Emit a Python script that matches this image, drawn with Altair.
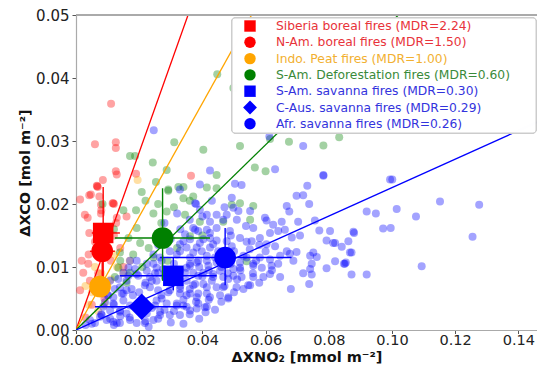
import altair as alt
import pandas as pd

# ---------------- data ----------------
red_x = [0.0111, 0.0060, 0.0126, 0.0126, 0.0126, 0.0129, 0.0190, 0.0364, 0.0085, 0.0067,
         0.0066, 0.0047, 0.0118, 0.0013, 0.0028, 0.0129, 0.0018, 0.0039, 0.0023, 0.0044,
         0.0013, 0.0100, 0.0120, 0.0060, 0.0040, 0.0110, 0.0140, 0.0070, 0.0090, 0.0050,
         0.0030, 0.0120, 0.0160, 0.0150, 0.0080, 0.0042, 0.0069, 0.0074, 0.0116, 0.0079,
         0.0079, 0.0037, 0.0127, 0.0042]
red_y = [0.0359, 0.0295, 0.0298, 0.0289, 0.0252, 0.0247, 0.0248, 0.0245, 0.0238, 0.0228,
         0.0229, 0.0215, 0.0201, 0.0207, 0.0183, 0.0178, 0.0110, 0.0105, 0.0091, 0.0078,
         0.0063, 0.0160, 0.0150, 0.0140, 0.0120, 0.0110, 0.0130, 0.0090, 0.0050, 0.0040,
         0.0020, 0.0200, 0.0180, 0.0100, 0.0190, 0.0214, 0.0227, 0.0212, 0.0201, 0.0199,
         0.0185, 0.0178, 0.0170, 0.0154]

orange_x = [0.0195, 0.0050, 0.0080, 0.0110, 0.0130, 0.0040, 0.0150, 0.0090, 0.0170,
            0.0120, 0.0060, 0.0100, 0.0030, 0.0070]
orange_y = [0.0238, 0.0060, 0.0090, 0.0080, 0.0100, 0.0040, 0.0090, 0.0040, 0.0110,
            0.0120, 0.0100, 0.0070, 0.0070, 0.0030]

green_x = [0.0447, 0.0498, 0.0171, 0.0187, 0.0243, 0.0311, 0.0403, 0.0519, 0.0287, 0.0445,
           0.0566, 0.0600, 0.0253, 0.0292, 0.0324, 0.0340, 0.0445, 0.0614, 0.0674, 0.0783,
           0.0833, 0.0519, 0.0561, 0.0493, 0.0551, 0.0466, 0.0540, 0.0208, 0.0371, 0.0414,
           0.0245, 0.0287, 0.0345, 0.0392, 0.0192, 0.0166, 0.0203, 0.0361, 0.0139, 0.0181,
           0.0245, 0.0134, 0.0171, 0.0123, 0.0220, 0.0310, 0.0270, 0.0150, 0.0120, 0.0320,
           0.0290, 0.0210, 0.0160, 0.0360, 0.0400, 0.0230, 0.0190, 0.0140, 0.0260, 0.0340,
           0.0292, 0.0084]
green_y = [0.0406, 0.0384, 0.0276, 0.0276, 0.0266, 0.0298, 0.0286, 0.0292, 0.0254, 0.0246,
           0.0258, 0.0252, 0.0235, 0.0223, 0.0227, 0.0227, 0.0225, 0.0303, 0.0299, 0.0293,
           0.0306, 0.0201, 0.0197, 0.0199, 0.0175, 0.0172, 0.0109, 0.0219, 0.0212, 0.0226,
           0.0185, 0.0188, 0.0183, 0.0172, 0.0162, 0.0146, 0.0138, 0.0149, 0.0123, 0.0120,
           0.0115, 0.0099, 0.0091, 0.0084, 0.0205, 0.0195, 0.0170, 0.0190, 0.0160, 0.0130,
           0.0110, 0.0100, 0.0075, 0.0205, 0.0150, 0.0130, 0.0190, 0.0110, 0.0200, 0.0209,
           0.0221, 0.0200]

blue_x = [0.0612, 0.0719, 0.0630, 0.0783, 0.0503, 0.0524, 0.0732, 0.0698, 0.0719, 0.0493,
          0.0738, 0.0667, 0.0498, 0.0514, 0.0551, 0.0675, 0.0920, 0.0949, 0.0972, 0.0994,
          0.0477, 0.0509, 0.0598, 0.0603, 0.0624, 0.0651, 0.0703, 0.0756, 0.0538, 0.0561,
          0.0770, 0.0804, 0.0878, 0.0487, 0.0614, 0.0640, 0.0661, 0.0683, 0.0709, 0.0793,
          0.0820, 0.0862, 0.0582, 0.0556, 0.0519, 0.0477, 0.0493, 0.0603, 0.0630, 0.0841,
          0.0872, 0.0667, 0.0677, 0.0698, 0.0751, 0.0762, 0.0741, 0.0646, 0.0582, 0.0614,
          0.0688, 0.0820, 0.0851, 0.0746, 0.0741, 0.0793, 0.0561, 0.0588, 0.0619, 0.0519,
          0.0719, 0.0746, 0.0872, 0.0920, 0.0498, 0.0614, 0.0593, 0.0561, 0.0545, 0.0646,
          0.0738, 0.0680, 0.0482, 0.1152, 0.1276, 0.1015, 0.1076, 0.0996, 0.1255, 0.1094,
          0.0880, 0.0814, 0.0867, 0.0848, 0.0854, 0.1001, 0.0246, 0.0424, 0.0392, 0.0329,
          0.0783,
          0.0403, 0.0424, 0.0445, 0.0329, 0.0350, 0.0382, 0.0398, 0.0424, 0.0450, 0.0297,
          0.0319, 0.0245, 0.0266, 0.0361, 0.0387, 0.0414, 0.0445, 0.0192, 0.0224, 0.0255,
          0.0276, 0.0350, 0.0371, 0.0403, 0.0434, 0.0466, 0.0166, 0.0192, 0.0234, 0.0255,
          0.0350, 0.0377, 0.0403, 0.0445, 0.0108, 0.0139, 0.0160, 0.0234, 0.0260, 0.0297,
          0.0329, 0.0361, 0.0382, 0.0414, 0.0456, 0.0086, 0.0118, 0.0150, 0.0171, 0.0255,
          0.0287, 0.0319, 0.0350, 0.0382, 0.0408, 0.0086, 0.0108, 0.0139, 0.0160, 0.0266,
          0.0297, 0.0224, 0.0076, 0.0097, 0.0118, 0.0139, 0.0171, 0.0192, 0.0044, 0.0060,
          0.0329, 0.0377, 0.0392, 0.0414, 0.0445, 0.0466, 0.0424, 0.0371, 0.0387, 0.0414,
          0.0445, 0.0345, 0.0361,
          0.0500, 0.0530, 0.0490, 0.0550, 0.0520, 0.0570, 0.0480, 0.0510, 0.0560, 0.0540,
          0.0490, 0.0580, 0.0600, 0.0470, 0.0530, 0.0500, 0.0580, 0.0620, 0.0640, 0.0460,
          0.0440, 0.0420, 0.0400, 0.0390, 0.0360, 0.0330, 0.0310, 0.0280, 0.0250, 0.0220,
          0.0200, 0.0180, 0.0150, 0.0120, 0.0080, 0.0050, 0.0030, 0.0100, 0.0270, 0.0330,
          0.0360, 0.0300, 0.0430, 0.0460, 0.0420, 0.0380, 0.0340, 0.0240, 0.0200, 0.0280,
          0.0310, 0.0360, 0.0410, 0.0440, 0.0390, 0.0260, 0.0220, 0.0300, 0.0340, 0.0170,
          0.0140, 0.0120, 0.0230, 0.0260, 0.0300, 0.0330, 0.0280, 0.0360, 0.0320, 0.0400,
          0.0380, 0.0430, 0.0470,
          0.0166, 0.0150, 0.0187, 0.0134, 0.0160, 0.0123, 0.0102, 0.0145, 0.0176, 0.0218,
          0.0240, 0.0092, 0.0118, 0.0139, 0.0081, 0.0108, 0.0129, 0.0250, 0.0271, 0.0292,
          0.0245, 0.0218, 0.0266, 0.0197, 0.0224, 0.0260, 0.0271, 0.0245, 0.0171,
          0.0377, 0.0424, 0.0340, 0.0392, 0.0434, 0.0329, 0.0371, 0.0414, 0.0382, 0.0419,
          0.0361, 0.0519, 0.0540, 0.0561, 0.0498, 0.0456, 0.0345, 0.0387, 0.0434, 0.0482,
          0.0524, 0.0551, 0.0508, 0.0466, 0.0414, 0.0371, 0.0329, 0.0350, 0.0387, 0.0424,
          0.0482, 0.0340, 0.0387, 0.0319, 0.0414, 0.0361]
blue_y = [0.0307, 0.0292, 0.0255, 0.0245, 0.0232, 0.0230, 0.0229, 0.0213, 0.0214, 0.0210,
          0.0200, 0.0197, 0.0194, 0.0189, 0.0189, 0.0188, 0.0188, 0.0185, 0.0161, 0.0239,
          0.0183, 0.0175, 0.0178, 0.0174, 0.0167, 0.0172, 0.0172, 0.0174, 0.0165, 0.0162,
          0.0158, 0.0157, 0.0156, 0.0157, 0.0154, 0.0157, 0.0159, 0.0147, 0.0150, 0.0142,
          0.0138, 0.0141, 0.0146, 0.0141, 0.0146, 0.0141, 0.0133, 0.0136, 0.0133, 0.0132,
          0.0123, 0.0125, 0.0121, 0.0124, 0.0123, 0.0116, 0.0118, 0.0118, 0.0115, 0.0112,
          0.0110, 0.0109, 0.0105, 0.0105, 0.0097, 0.0098, 0.0105, 0.0099, 0.0102, 0.0099,
          0.0090, 0.0088, 0.0088, 0.0088, 0.0086, 0.0089, 0.0084, 0.0084, 0.0071, 0.0084,
          0.0073, 0.0065, 0.0050, 0.0204, 0.0199, 0.0192, 0.0180, 0.0162, 0.0148, 0.0101,
          0.0154, 0.0138, 0.0123, 0.0105, 0.0107, 0.0239, 0.0317, 0.0253, 0.0231, 0.0223,
          0.0246,
          0.0144, 0.0146, 0.0142, 0.0136, 0.0131, 0.0131, 0.0125, 0.0131, 0.0125, 0.0125,
          0.0120, 0.0120, 0.0115, 0.0115, 0.0110, 0.0110, 0.0107, 0.0110, 0.0105, 0.0099,
          0.0097, 0.0099, 0.0091, 0.0091, 0.0089, 0.0084, 0.0086, 0.0089, 0.0084, 0.0078,
          0.0078, 0.0073, 0.0073, 0.0068, 0.0078, 0.0068, 0.0063, 0.0068, 0.0063, 0.0063,
          0.0058, 0.0058, 0.0052, 0.0058, 0.0055, 0.0058, 0.0052, 0.0047, 0.0039, 0.0047,
          0.0042, 0.0042, 0.0037, 0.0034, 0.0036, 0.0037, 0.0031, 0.0029, 0.0026, 0.0029,
          0.0024, 0.0026, 0.0021, 0.0016, 0.0013, 0.0011, 0.0016, 0.0011, 0.0016, 0.0011,
          0.0024, 0.0201, 0.0191, 0.0183, 0.0183, 0.0175, 0.0172, 0.0162, 0.0157, 0.0159,
          0.0162, 0.0152, 0.0144,
          0.0125, 0.0118, 0.0105, 0.0128, 0.0095, 0.0110, 0.0090, 0.0080, 0.0090, 0.0140,
          0.0150, 0.0135, 0.0125, 0.0070, 0.0065, 0.0060, 0.0075, 0.0095, 0.0105, 0.0100,
          0.0115, 0.0095, 0.0085, 0.0100, 0.0105, 0.0095, 0.0105, 0.0085, 0.0090, 0.0075,
          0.0060, 0.0055, 0.0058, 0.0040, 0.0025, 0.0010, 0.0008, 0.0055, 0.0055, 0.0070,
          0.0065, 0.0075, 0.0078, 0.0045, 0.0048, 0.0045, 0.0048, 0.0035, 0.0030, 0.0032,
          0.0030, 0.0025, 0.0028, 0.0032, 0.0018, 0.0018, 0.0014, 0.0012, 0.0010, 0.0020,
          0.0022, 0.0008, 0.0005, 0.0135, 0.0145, 0.0160, 0.0170, 0.0175, 0.0185, 0.0180,
          0.0200, 0.0205, 0.0195,
          0.0099, 0.0091, 0.0097, 0.0081, 0.0078, 0.0065, 0.0055, 0.0058, 0.0065, 0.0071,
          0.0078, 0.0044, 0.0042, 0.0031, 0.0024, 0.0018, 0.0011, 0.0039, 0.0050, 0.0060,
          0.0016, 0.0011, 0.0024, 0.0086, 0.0094, 0.0091, 0.0110, 0.0105, 0.0110,
          0.0159, 0.0154, 0.0141, 0.0138, 0.0136, 0.0125, 0.0123, 0.0118, 0.0107, 0.0102,
          0.0102, 0.0107, 0.0115, 0.0102, 0.0097, 0.0094, 0.0091, 0.0086, 0.0084, 0.0081,
          0.0084, 0.0071, 0.0068, 0.0068, 0.0068, 0.0071, 0.0065, 0.0055, 0.0058, 0.0052,
          0.0052, 0.0039, 0.0042, 0.0039, 0.0037, 0.0031]

# fitted lines (slope of dXCO vs dXNO2 as drawn)
line_colors = ["red", "orange", "green", "blue"]
line_slopes = [1.41, 0.90, 0.49, 0.226]

# region means with error bars
reg_names = ["Siberia boreal fires", "N-Am. boreal fires", "Indo. Peat fires",
             "S-Am. Deforestation fires", "S-Am. savanna fires", "C-Aus. savanna fires",
             "Afr. savanna fires"]
reg_mdr = ["2.24", "1.50", "1.00", "0.60", "0.30", "0.29", "0.26"]
reg_color = ["red", "red", "orange", "green", "blue", "blue", "blue"]
reg_text_color = ["#e8333a", "#e8333a", "#f2b030", "#3a8a3a", "#3333dd", "#3333dd", "#3333dd"]
reg_shape = ["square", "circle", "circle", "circle", "square", "diamond", "circle"]
reg_size = [420, 470, 470, 470, 420, 700, 470]
reg_legend_size = [130, 130, 130, 130, 130, 190, 130]
reg_x = [0.0086, 0.0083, 0.0076, 0.0274, 0.0308, 0.0208, 0.0472]
reg_y = [0.0154, 0.0125, 0.0069, 0.0146, 0.0086, 0.0037, 0.0115]
reg_xlo = [0.0050, 0.0044, 0.0055, 0.0123, 0.0139, 0.0060, 0.0266]
reg_xhi = [0.0139, 0.0123, 0.0100, 0.0424, 0.0445, 0.0350, 0.0682]
reg_ylo = [0.0084, 0.0085, 0.0052, 0.0078, 0.0063, 0.0018, 0.0071]
reg_yhi = [0.0227, 0.0165, 0.0086, 0.0225, 0.0115, 0.0055, 0.0162]

x_ticks = [0.00, 0.02, 0.04, 0.06, 0.08, 0.10, 0.12, 0.14]
y_ticks = [0.00, 0.01, 0.02, 0.03, 0.04, 0.05]

# ---------------- build tables ----------------
W, H = 461, 315
XMAX = 0.1459

pts = pd.concat([
    pd.DataFrame({"x": red_x, "y": red_y, "c": "red"}),
    pd.DataFrame({"x": orange_x, "y": orange_y, "c": "orange"}),
    pd.DataFrame({"x": green_x, "y": green_y, "c": "green"}),
    pd.DataFrame({"x": blue_x, "y": blue_y, "c": "blue"}),
], ignore_index=True)
pts["order"] = range(len(pts))

lines = pd.DataFrame(
    [{"x": xx, "y": s * xx, "c": c} for c, s in zip(line_colors, line_slopes) for xx in (0.0, 0.16)]
)

reg = pd.DataFrame({
    "name": reg_names, "mdr": reg_mdr, "c": reg_color, "tc": reg_text_color,
    "shape": reg_shape, "size": reg_size, "lsize": reg_legend_size,
    "x": reg_x, "y": reg_y, "xlo": reg_xlo, "xhi": reg_xhi, "ylo": reg_ylo, "yhi": reg_yhi,
})
reg["row"] = range(len(reg))
reg["label"] = reg["name"] + " (MDR=" + reg["mdr"] + ")"

xs = alt.Scale(domain=[0, XMAX], nice=False, zero=False)
ys = alt.Scale(domain=[0, 0.05], nice=False, zero=False)

X = alt.X("x:Q", scale=xs, axis=alt.Axis(values=x_ticks, format=".2f",
                                           title="ΔXNO₂ [mmol m⁻²]",
                                           labelOverlap=False, labelFlush=False,
                                           labelFontSize=14.5, labelPadding=0,
                                           tickSize=3.5, titleY=27,
                                           titleBaseline="middle"))
Y = alt.Y("y:Q", scale=ys, axis=alt.Axis(values=y_ticks, format=".2f",
                                           title="ΔXCO [mol m⁻²]",
                                           labelOverlap=False, labelFlush=False))

scatter = alt.Chart(pts).mark_circle(size=64, opacity=0.36).encode(
    x=X, y=Y, color=alt.Color("c:N", scale=None), order="order:Q"
)

fit = alt.Chart(lines).mark_line(clip=True, strokeWidth=1.3).encode(
    x="x:Q", y="y:Q", color=alt.Color("c:N", scale=None), detail="c:N"
)

hbar = alt.Chart(reg).mark_rule(strokeWidth=1.4).encode(
    x="xlo:Q", x2="xhi:Q", y="y:Q", color=alt.Color("c:N", scale=None)
)
vbar = alt.Chart(reg).mark_rule(strokeWidth=1.4).encode(
    x="x:Q", y="ylo:Q", y2="yhi:Q", color=alt.Color("c:N", scale=None)
)
big = alt.Chart(reg).mark_point(filled=True, opacity=1).encode(
    x="x:Q", y="y:Q",
    shape=alt.Shape("shape:N", scale=None),
    size=alt.Size("size:Q", scale=None),
    color=alt.Color("c:N", scale=None),
)

top_spine = alt.Chart(reg).mark_rule(color="#aaaaaa", strokeWidth=1.2).encode(
    x=alt.value(0), x2=alt.value(W), y=alt.value(0)
)

# legend (drawn manually to allow coloured labels)
leg_box = alt.Chart(reg).mark_rect(fill="white", opacity=0.85, stroke="#cccccc",
                                   strokeWidth=1, cornerRadius=3).encode(
    x=alt.value(156), x2=alt.value(W - 1), y=alt.value(3), y2=alt.value(118)
)
leg_base = alt.Chart(reg).transform_calculate(py="11 + 16.3 * datum.row")
leg_sym = leg_base.mark_point(filled=True, opacity=1).encode(
    x=alt.value(174),
    y=alt.Y("py:Q", scale=None),
    shape=alt.Shape("shape:N", scale=None),
    size=alt.Size("lsize:Q", scale=None),
    color=alt.Color("c:N", scale=None),
)
leg_txt = leg_base.mark_text(align="left", baseline="middle", font="DejaVu Sans",
                             fontSize=12.3).encode(
    x=alt.value(200),
    y=alt.Y("py:Q", scale=None),
    text="label:N",
    color=alt.Color("tc:N", scale=None),
)

chart = alt.layer(
    scatter, fit, hbar, vbar, big, top_spine, leg_box, leg_sym, leg_txt
).properties(
    width=W, height=H,
    autosize=alt.AutoSizeParams(type="none"),
    padding={"left": 68, "top": 7, "right": 0, "bottom": 34},
).configure_view(strokeWidth=0).configure_axis(
    grid=False,
    labelFont="DejaVu Sans", labelFontSize=15, labelColor="#222222",
    titleFont="DejaVu Sans", titleFontSize=14.5, titleFontWeight="bold", titleColor="#111111",
    domainColor="#aaaaaa", domainWidth=1.2, tickColor="#555555", tickSize=4,
    labelPadding=3, titlePadding=3,
)

chart.save("out.html", embed_options={"renderer": "svg", "actions": False})
